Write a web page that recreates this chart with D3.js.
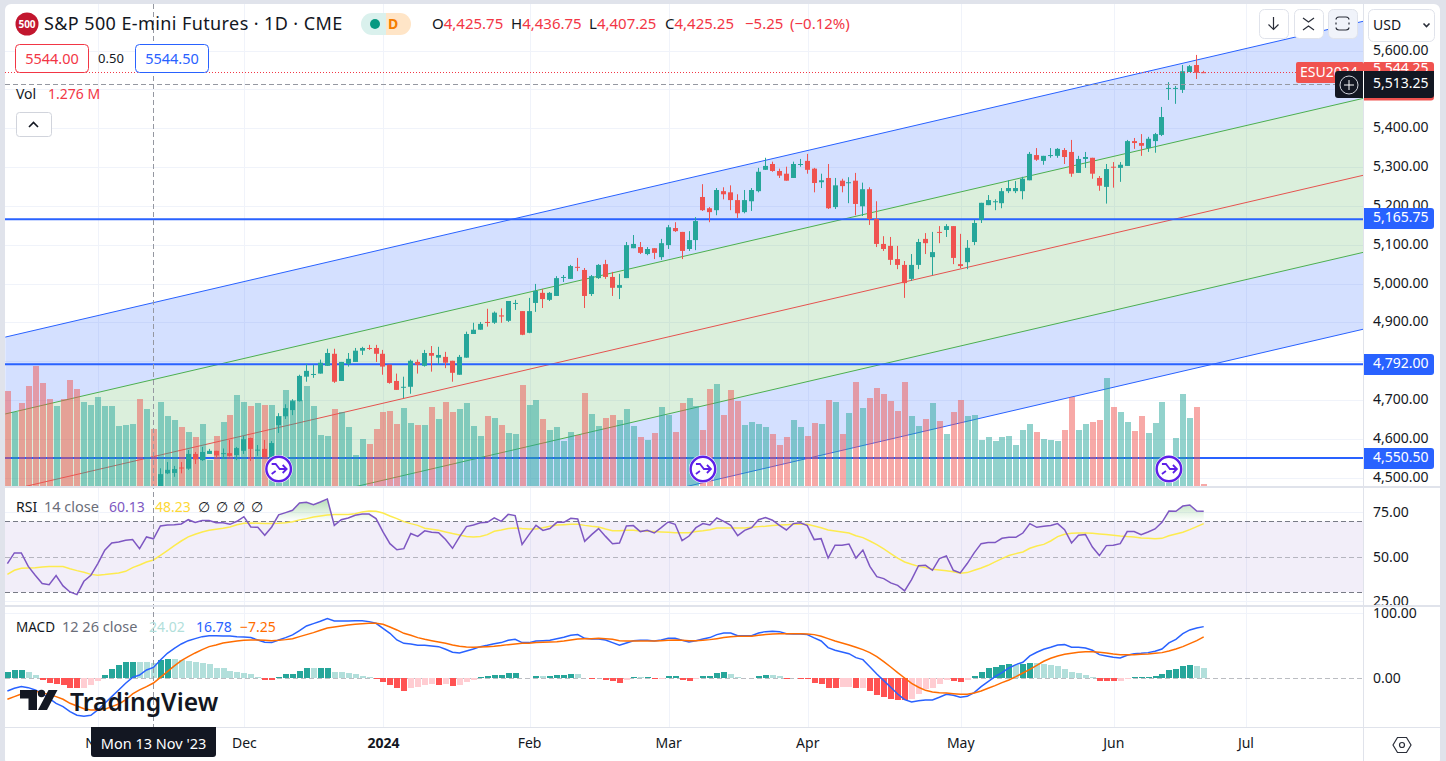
<!DOCTYPE html>
<html>
<head>
<meta charset="utf-8">
<title>S&amp;P 500 E-mini Futures</title>
<script src="https://cdn.jsdelivr.net/npm/d3@7"></script>
<style>
  html, body { margin: 0; padding: 0; background: #e0e3eb; overflow: hidden; }
  svg { display: block; }
  text { font-family: "Noto Sans", sans-serif; }
</style>
</head>
<body>
<div id="chart"></div>
<script>
// bar index 0 is Mon 13 Nov '23, the day under the crosshair
const firstVolumeBar = -21
const firstCandleBar = 1

const opens = [4468,4511,4512,4526,4523,4561,4545,4561,4569,4561,4563,4558,4569,4602,4570,4574,4553,4635,4658,4674,4697,4760,4765,4768,4788,4819,4749,4793,4798,4827,4834,4834,4819,4791,4749,4732,4734,4798,4788,4821,4809,4811,4801,4765,4809,4870,4881,4901,4899,4918,4904,4948,4929,4873,4950,4976,4958,4968,5015,5012,5043,5035,4973,5014,5050,5017,4989,5014,5091,5094,5076,5091,5068,5099,5143,5133,5089,5112,5223,5194,5189,5238,5235,5215,5184,5212,5238,5293,5308,5290,5283,5272,5307,5316,5296,5261,5272,5197,5265,5259,5265,5199,5243,5166,5102,5097,5063,5048,5012,5048,5115,5068,5133,5138,5148,5050,5055,5107,5164,5202,5210,5207,5238,5238,5238,5266,5331,5316,5330,5329,5344,5339,5285,5321,5324,5272,5249,5301,5298,5303,5367,5362,5349,5367,5383,5502,5502,5499,5545,5563,5544.5]
const highs = [4524,4540,4530,4540,4571,4566,4579,4574,4569,4575,4597,4579,4607,4603,4584,4597,4594,4666,4689,4702,4765,4793,4791,4804,4832,4832,4798,4821,4834,4837,4842,4842,4829,4791,4768,4760,4804,4804,4829,4839,4837,4824,4801,4816,4876,4899,4901,4935,4928,4936,4955,4958,4929,4963,4999,4986,4978,5019,5022,5048,5066,5040,5022,5050,5061,5030,5025,5107,5125,5107,5094,5091,5115,5151,5158,5133,5135,5171,5256,5197,5246,5248,5253,5230,5241,5246,5298,5324,5314,5296,5301,5314,5321,5334,5298,5283,5308,5272,5270,5274,5285,5260,5248,5212,5122,5120,5097,5058,5076,5115,5130,5133,5148,5153,5148,5128,5112,5164,5208,5228,5217,5246,5266,5264,5275,5339,5349,5329,5349,5349,5349,5370,5329,5339,5324,5277,5308,5313,5313,5370,5375,5385,5378,5388,5455,5519,5509,5563,5563,5589,5548]
const lows = [4460,4509,4502,4511,4520,4535,4543,4561,4551,4548,4554,4545,4561,4543,4556,4552,4552,4615,4651,4661,4696,4747,4757,4768,4788,4744,4749,4786,4798,4816,4829,4798,4765,4742,4726,4705,4716,4768,4786,4773,4791,4782,4747,4765,4809,4870,4881,4889,4896,4899,4901,4932,4867,4872,4927,4937,4955,4968,5004,5012,5032,4937,4968,5012,5012,4968,4960,5014,5091,5076,5073,5063,5061,5089,5133,5063,5084,5086,5187,5158,5176,5217,5189,5169,5181,5187,5235,5293,5288,5272,5265,5272,5301,5283,5235,5246,5192,5192,5235,5207,5176,5174,5151,5094,5084,5048,5037,4963,5007,5037,5076,5022,5104,5120,5050,5040,5037,5099,5156,5202,5189,5194,5233,5233,5217,5266,5316,5306,5324,5324,5308,5275,5285,5298,5270,5239,5206,5247,5262,5303,5347,5329,5339,5337,5380,5473,5463,5491,5545,5527,5544]
const closes = [4509,4520,4522,4525,4561,4547,4566,4569,4557,4563,4556,4576,4599,4574,4572,4553,4589,4658,4679,4697,4762,4775,4767,4796,4821,4747,4798,4806,4827,4834,4833,4819,4786,4744,4726,4734,4801,4791,4821,4814,4816,4796,4770,4811,4870,4881,4896,4899,4925,4915,4955,4950,4868,4929,4981,4960,4976,5014,5017,5045,5041,4968,5019,5048,5017,4989,4996,5099,5102,5079,5089,5079,5104,5145,5135,5084,5112,5161,5189,5184,5241,5230,5215,5181,5215,5241,5288,5303,5290,5278,5265,5308,5308,5293,5259,5266,5194,5253,5251,5261,5205,5243,5166,5102,5089,5061,5048,5001,5048,5107,5104,5081,5131,5148,5066,5045,5092,5156,5208,5215,5212,5238,5246,5246,5270,5334,5319,5329,5331,5347,5326,5283,5321,5326,5283,5252,5295,5299,5306,5367,5362,5355,5373,5385,5429,5504,5504,5547,5560,5543,5544.25]

// volume in millions, bars 0 and earlier have no visible candle so their colour is listed
const volumes = [2.13,1.66,1.86,2.24,2.69,2.31,1.95,1.79,1.95,2.37,2.17,1.88,1.81,1.99,1.79,1.79,1.34,1.37,1.39,1.95,1.72,1.276,1.88,1.57,1.48,1.32,1.21,1.10,1.39,0.58,1.12,1.43,1.59,2.04,1.88,1.79,1.86,1.81,1.81,1.57,2.15,1.92,1.92,2.24,1.79,1.14,1.12,1.72,1.66,1.32,0.69,1.05,0.94,1.28,1.66,1.68,1.39,1.75,1.41,1.37,1.37,1.77,1.50,1.88,1.66,1.72,1.86,1.34,1.12,1.57,1.52,1.37,1.19,1.16,2.26,1.81,1.92,1.50,1.25,1.32,1.01,1.21,1.14,2.08,1.61,1.34,1.52,1.59,1.48,1.72,1.34,1.10,1.03,1.19,1.77,1.59,1.21,1.86,1.97,1.79,1.25,2.17,2.28,1.59,2.15,1.90,1.37,1.43,1.39,1.32,1.16,0.92,1.10,1.48,1.32,1.12,1.41,1.39,1.92,1.88,1.16,1.63,2.33,1.75,1.97,2.19,2.06,1.90,1.68,2.33,1.57,1.34,1.50,1.86,1.45,1.16,1.66,1.92,1.57,1.59,1.03,1.10,1.01,1.10,1.12,0.92,1.25,1.39,1.21,1.05,1.03,1.01,1.25,1.99,1.25,1.39,1.43,1.48,2.42,1.77,1.66,1.43,1.23,1.57,1.19,1.41,1.88,0.51,1.07,2.06,1.52,1.77,0.04]
const earlyVolumeDown = [1,0,1,1,1,1,1,0,1,1,1,0,0,0,0,0,0,0,0,1,0,1]

const rsiValues = [46.2,52.2,52.2,44.6,39.6,34.9,34.3,39.4,33.6,30.2,28.7,36.2,39.6,46.2,53.7,57.8,58.4,59.3,59.7,54.6,61.2,60.13,67.4,67.9,68.1,68.5,70.9,69.4,70.4,70.4,69.2,69.2,68.3,70.0,72.6,66.8,66.6,62.1,66.8,73.6,74.9,76.2,80.3,80.7,79.4,80.9,82.6,67.7,70.9,71.9,73.4,74.1,74.1,71.5,64.0,57.4,54.0,54.6,63.1,61.5,64.6,63.8,63.6,59.7,54.8,61.2,67.0,67.9,69.2,69.4,71.9,70.0,73.9,73.2,56.9,62.5,67.7,64.9,65.9,69.4,69.4,71.7,71.3,58.7,62.5,65.9,61.5,57.4,57.8,67.4,67.6,64.2,64.9,63.4,66.4,69.6,68.3,59.1,61.7,66.4,68.7,67.9,71.9,70.0,67.7,61.9,64.9,66.4,70.9,72.1,70.6,67.7,65.1,68.7,69.2,67.6,59.7,60.2,49.3,56.5,56.5,57.2,49.3,53.8,44.6,38.8,37.7,35.3,33.9,30.8,37.1,45.0,45.2,42.4,49.0,50.5,42.4,40.9,46.2,52.2,57.4,58.0,58.0,60.4,61.0,61.0,63.4,68.7,66.6,67.2,67.6,68.7,65.3,57.8,62.1,62.5,55.5,50.7,56.3,56.5,57.4,64.2,64.2,62.5,64.0,65.7,69.4,75.8,75.6,78.6,79.2,75.8,75.6]
const rsiAverage = [40.1,42.4,43.5,43.7,43.9,44.3,44.5,44.5,44.5,43.3,42.2,41.3,40.1,39.6,40.0,40.5,40.9,41.8,43.9,45.4,47.1,48.23,50.8,53.5,56.3,58.9,61.2,62.7,64.0,64.9,65.5,66.1,66.8,68.1,68.9,69.1,68.9,68.7,68.7,68.9,69.2,69.8,70.8,71.5,72.4,73.0,73.6,73.8,73.8,73.8,74.3,75.3,75.8,75.6,74.7,73.0,71.5,69.8,68.7,67.7,66.1,65.5,64.9,64.0,63.1,62.3,61.4,61.2,61.4,62.5,64.4,65.1,65.9,66.2,65.9,65.7,65.7,66.4,67.2,67.9,68.1,68.3,68.3,67.7,67.2,66.8,65.7,64.7,64.7,64.9,64.9,64.6,64.4,64.2,64.0,63.8,63.6,63.6,63.6,64.2,64.7,65.3,66.2,66.2,66.2,66.2,66.2,66.6,67.0,67.2,67.6,67.9,68.1,68.3,68.3,68.3,67.4,66.4,65.1,64.6,64.0,63.4,61.9,60.8,58.9,56.9,54.4,51.8,49.3,47.1,45.8,44.6,43.9,43.0,42.6,42.2,41.6,40.7,41.1,42.4,43.7,45.2,47.1,49.0,50.7,51.8,52.7,54.8,56.1,57.0,58.9,61.4,62.7,63.2,63.4,63.4,63.2,62.9,62.5,62.1,61.7,61.4,61.2,60.6,60.4,60.2,60.4,61.9,62.9,63.8,65.3,67.0,68.7]

const macdLine = [-19.5,-15.4,-12.8,-14.4,-17.9,-23.1,-30.8,-38.5,-43.6,-51.3,-56.9,-58.5,-56.9,-48.7,-38.5,-28.2,-17.9,-7.7,1.5,5.1,12.8,16.78,28.2,38.5,46.2,52.8,57.9,61.0,64.1,65.6,65.6,65.1,65.1,64.1,63.6,62.6,59.0,55.4,54.9,59.0,62.6,66.7,73.3,80.5,84.1,87.7,91.8,88.2,88.2,88.2,88.7,88.7,87.2,84.6,76.9,69.2,59.0,53.8,52.8,50.8,50.8,49.7,48.7,44.6,40.0,39.0,42.1,45.1,48.7,50.8,53.3,54.9,58.5,60.0,54.9,54.9,57.4,57.9,58.5,61.0,63.1,66.2,67.2,61.5,60.5,60.5,59.0,54.9,50.8,54.4,57.9,58.5,58.5,57.4,59.0,61.5,61.5,58.5,55.9,57.9,60.5,62.6,67.2,69.7,69.7,65.6,65.6,65.6,69.7,71.8,72.3,71.8,68.7,68.2,68.2,67.2,62.1,57.4,47.2,43.1,40.5,37.9,31.8,28.7,17.9,6.7,-3.6,-13.8,-24.1,-32.8,-36.4,-34.4,-33.3,-33.3,-29.2,-24.6,-26.2,-29.2,-27.7,-22.1,-12.8,-5.1,2.6,8.7,15.9,21.0,24.6,34.4,40.0,44.6,47.7,51.3,51.8,47.7,47.7,46.7,43.1,36.4,34.4,32.3,31.3,35.4,37.9,38.5,39.5,41.5,45.1,54.4,60.0,68.7,74.4,77.4,79.5]
const macdSignal = [-32.3,-28.2,-24.1,-21.0,-20.0,-22.1,-25.1,-28.2,-32.3,-38.5,-42.6,-46.7,-48.7,-48.7,-47.7,-43.6,-39.5,-33.3,-24.1,-17.9,-12.8,-7.25,1.5,10.3,19.0,27.2,33.3,39.0,44.1,48.7,51.3,54.4,55.9,57.4,58.5,59.0,59.0,58.5,57.9,58.5,59.5,61.0,64.1,67.2,70.3,73.8,77.4,79.0,80.5,82.1,83.1,84.1,84.6,84.6,83.1,79.0,74.4,69.2,66.2,62.6,60.0,57.9,55.9,53.8,51.3,49.2,48.2,47.7,48.2,48.7,49.2,50.3,51.8,52.8,53.8,53.8,54.9,55.4,55.9,56.4,57.4,59.0,60.5,61.0,61.0,61.5,61.0,60.0,57.9,57.4,57.4,57.4,57.4,57.4,57.9,58.5,59.0,58.5,57.9,57.9,58.5,59.5,61.0,62.6,64.1,64.6,64.6,64.6,66.2,67.2,68.2,68.7,68.7,68.7,68.7,68.2,67.2,64.6,61.0,57.4,54.4,51.3,47.7,44.1,39.5,33.3,25.6,17.4,8.7,0.5,-7.7,-13.8,-18.5,-21.0,-22.1,-22.6,-23.6,-24.6,-24.6,-22.6,-19.5,-15.4,-11.3,-6.7,-2.6,2.6,8.2,13.8,20.0,26.2,30.8,34.4,36.9,38.5,40.0,41.0,41.0,40.0,39.0,37.4,36.4,36.4,36.4,36.9,37.4,38.5,39.5,42.1,45.1,48.7,53.3,57.9,63.6]
const macdHistogram = [9.7,12.3,13.3,10.3,4.6,-3.1,-7.7,-8.2,-10.3,-14.4,-15.4,-14.9,-10.3,-4.6,5.1,14.4,20.5,24.6,25.6,25.0,24.6,24.02,28.7,29.7,29.5,28.2,26.7,25.6,24.1,21.5,16.4,15.4,11.3,9.2,7.7,6.2,2.6,-3.1,-3.1,2.6,6.2,7.2,11.3,15.4,15.2,15.4,15.6,10.3,9.2,7.7,6.2,4.1,2.1,-0.5,-5.1,-10.3,-15.4,-19.0,-15.4,-12.8,-10.3,-9.4,-9.6,-9.4,-11.3,-11.0,-5.1,-2.1,1.5,4.1,5.6,5.6,7.7,7.7,0.5,0.4,4.1,3.6,4.1,5.1,5.6,7.2,6.7,0.5,-1.0,0.5,-2.1,-4.6,-7.7,-2.1,2.6,2.1,2.2,-1.0,-0.5,4.1,4.1,-2.6,-3.6,-1.0,4.1,4.1,7.7,9.2,7.2,2.6,1.0,0.9,4.1,5.6,5.4,4.1,-0.5,0.5,-0.5,-1.5,-6.7,-8.2,-14.4,-14.5,-13.8,-12.8,-15.4,-14.9,-19.0,-25.6,-28.7,-31.8,-32.8,-33.8,-31.3,-23.6,-16.4,-15.4,-8.7,-2.1,-3.6,-5.1,-3.1,4.1,10.3,15.4,17.9,20.0,21.5,20.5,21.5,24.1,23.9,22.6,21.0,19.5,13.8,10.3,8.7,5.6,2.6,-4.6,-4.6,-4.6,-4.5,-1.5,2.1,2.2,2.6,4.1,7.2,13.3,14.9,19.0,21.0,19.5,16.4]

const priceGridTicks = [5600,5500,5400,5300,5200,5100,5000,4900,4800,4700,4600,4500]
// 5,500 and 4,800 have no label of their own, the price tags take their place
const priceLabelTicks = [5600,5400,5300,5200,5100,5000,4900,4700,4600,4500]
const rsiTicks = [75,50,25]
const macdTicks = [100,0]
const levelPrices = [5165.75,4792,4550.5]
const eventBars = [18,79,146]
const monthBars = [-8,13,33,54,74,94,116,138,157]
const monthLabels = ['Nov','Dec','2024','Feb','Mar','Apr','May','Jun','Jul']

// regression channel, both ends in bar index / price
const channelBars = [-21.3,174.1]
const channelTop = [4862,5676.4]
const channelUpper = [4664,5477.8]
const channelMiddle = [4465.3,5279.6]
const channelLower = [4267,5081]
const channelBottom = [4069,4883]

const lastPrice = 5544.25
const crosshairPrice = 5513.25
const crosshairBar = 0

const width = 1446, height = 761
const left = 5, right = 1363
const mainTop = 4, mainBottom = 486
const rsiTop = 488, rsiBottom = 605
const macdTop = 607, macdBottom = 727
const gridColor = '#f0f3fa'
const sepColor = '#e0e3eb'
const textColor = '#131722'
const upColor = '#26a69a', downColor = '#ef5350'
const blue = '#2962ff', red = '#f23645'

const x = d3.scaleLinear().domain([-21,151]).range([7.4,1203.7])
const y = d3.scaleLinear().domain([5544.25,4550.5]).range([72.3,458])
const yVol = d3.scaleLinear().domain([0,2.686]).range([486,366])
const yRsi = d3.scaleLinear().domain([30,70]).range([592.3,521.3])
const yMacd = d3.scaleLinear().domain([0,100]).range([678.3,613.3])
const snap = (k)=>(Math.floor(x(k)) + 0.5)

const svg = d3.select('#chart').append('svg')
  .attr('width',width)
  .attr('height',height)

svg.append('rect')
  .attr('x',left).attr('y',mainTop)
  .attr('width',1435).attr('height',height)
  .attr('rx',6)
  .attr('fill','#fff')

const defs = svg.append('defs')
function addClip(id, top, bottom){
  defs.append('clipPath').attr('id',id).append('rect')
    .attr('x',left).attr('y',top)
    .attr('width',right-left).attr('height',bottom-top)
}
addClip('clipMain',mainTop,mainBottom)
addClip('clipRsi',rsiTop,rsiBottom)
addClip('clipMacd',macdTop,macdBottom)
defs.append('clipPath').attr('id','clipRsiAxis').append('rect')
  .attr('x',right).attr('y',rsiTop).attr('width',76).attr('height',rsiBottom-rsiTop)

const rsiGradient = defs.append('linearGradient')
  .attr('id','rsiHigh')
  .attr('gradientUnits','userSpaceOnUse')
  .attr('x1',0).attr('x2',0).attr('y1',yRsi(84)).attr('y2',yRsi(70))
rsiGradient.append('stop').attr('offset',0).attr('stop-color','#4caf50').attr('stop-opacity',0.45)
rsiGradient.append('stop').attr('offset',1).attr('stop-color','#4caf50').attr('stop-opacity',0)

// grid
const grid = svg.append('g').attr('stroke',gridColor).attr('stroke-width',1).attr('shape-rendering','crispEdges')
grid.selectAll('.vgrid').data(monthBars).enter().append('line')
  .attr('x1',(d)=>(snap(d)+1)).attr('x2',(d)=>(snap(d)+1))
  .attr('y1',mainTop).attr('y2',macdBottom)
grid.selectAll('.pgrid').data(priceGridTicks).enter().append('line')
  .attr('x1',left).attr('x2',right)
  .attr('y1',(d)=>(Math.round(y(d))+0.5)).attr('y2',(d)=>(Math.round(y(d))+0.5))
grid.selectAll('.rgrid').data([75,25]).enter().append('line')
  .attr('x1',left).attr('x2',right)
  .attr('y1',(d)=>(Math.round(yRsi(d))+0.5)).attr('y2',(d)=>(Math.round(yRsi(d))+0.5))
grid.append('line')
  .attr('x1',left).attr('x2',right)
  .attr('y1',Math.round(yMacd(100))+0.5).attr('y2',Math.round(yMacd(100))+0.5)

// main pane
const main = svg.append('g').attr('clip-path','url(#clipMain)')

function channelBand(upper, lower, fill){
  const area = d3.area()
    .x((d)=>(x(d)))
    .y0((d,i)=>(y(lower[i])))
    .y1((d,i)=>(y(upper[i])))
  main.append('path').attr('d',area(channelBars)).attr('fill',fill)
}
function channelLine(values, stroke){
  const line = d3.line().x((d)=>(x(d))).y((d,i)=>(y(values[i])))
  main.append('path').attr('d',line(channelBars)).attr('fill','none').attr('stroke',stroke).attr('stroke-width',1)
}
channelBand(channelTop,channelUpper,'rgba(41,98,255,0.2)')
channelBand(channelUpper,channelLower,'rgba(76,175,80,0.2)')
channelBand(channelLower,channelBottom,'rgba(41,98,255,0.2)')
channelLine(channelTop,blue)
channelLine(channelUpper,'#4caf50')
channelLine(channelMiddle,'#e5534f')
channelLine(channelLower,'#4caf50')
channelLine(channelBottom,blue)

main.selectAll('.level').data(levelPrices).enter().append('line')
  .attr('x1',left).attr('x2',right)
  .attr('y1',(d)=>(y(d))).attr('y2',(d)=>(y(d)))
  .attr('stroke',blue).attr('stroke-width',2)

const volumeIsDown = (k)=>(k < firstCandleBar
  ? earlyVolumeDown[k-firstVolumeBar] === 1
  : closes[k-firstCandleBar] < opens[k-firstCandleBar])

main.selectAll('.vol').data(volumes).enter().append('rect')
  .attr('x',(d,i)=>(snap(i+firstVolumeBar)-2.5))
  .attr('width',6)
  .attr('y',(d)=>(yVol(d)))
  .attr('height',(d)=>(yVol(0)-yVol(d)))
  .attr('fill',(d,i)=>(volumeIsDown(i+firstVolumeBar) ? downColor : upColor))
  .attr('fill-opacity',0.5)
  .attr('shape-rendering','crispEdges')

main.selectAll('.wick').data(opens).enter().append('line')
  .attr('x1',(d,i)=>(snap(i+firstCandleBar)))
  .attr('x2',(d,i)=>(snap(i+firstCandleBar)))
  .attr('y1',(d,i)=>(y(highs[i])))
  .attr('y2',(d,i)=>(y(lows[i])))
  .attr('stroke',(d,i)=>(closes[i] < d ? downColor : upColor))
  .attr('stroke-width',1)

main.selectAll('.body').data(opens).enter().append('rect')
  .attr('x',(d,i)=>(snap(i+firstCandleBar)-2.5))
  .attr('width',5)
  .attr('y',(d,i)=>(y(Math.max(d,closes[i]))))
  .attr('height',(d,i)=>(Math.max(1,Math.abs(y(d)-y(closes[i])))))
  .attr('fill',(d,i)=>(closes[i] < d ? downColor : upColor))

// last price line
svg.append('line')
  .attr('x1',left).attr('x2',right)
  .attr('y1',Math.round(y(lastPrice))+0.5).attr('y2',Math.round(y(lastPrice))+0.5)
  .attr('stroke',red).attr('stroke-width',1).attr('stroke-dasharray','1 2')

// rsi pane
svg.append('rect')
  .attr('x',left).attr('width',right-left)
  .attr('y',yRsi(70)).attr('height',yRsi(30)-yRsi(70))
  .attr('fill','rgba(126,87,194,0.1)')

const rsiPane = svg.append('g').attr('clip-path','url(#clipRsi)')
rsiPane.selectAll('.band').data([70,50,30]).enter().append('line')
  .attr('x1',left).attr('x2',right)
  .attr('y1',(d)=>(Math.round(yRsi(d))+0.5)).attr('y2',(d)=>(Math.round(yRsi(d))+0.5))
  .attr('stroke','#787b86')
  .attr('stroke-opacity',(d)=>(d === 50 ? 0.5 : 1))
  .attr('stroke-dasharray','5 3')

const rsiArea = d3.area()
  .x((d,i)=>(x(i+firstVolumeBar)))
  .y0(yRsi(70))
  .y1((d)=>(yRsi(Math.max(d,70))))
rsiPane.append('path').attr('d',rsiArea(rsiValues)).attr('fill','url(#rsiHigh)')

const rsiLine = d3.line().x((d,i)=>(x(i+firstVolumeBar))).y((d)=>(yRsi(d)))
rsiPane.append('path').attr('d',rsiLine(rsiAverage))
  .attr('fill','none').attr('stroke','#fdeb4f').attr('stroke-width',1.5)
rsiPane.append('path').attr('d',rsiLine(rsiValues))
  .attr('fill','none').attr('stroke','#7e57c2').attr('stroke-width',1.5)

// macd pane
const macdPane = svg.append('g').attr('clip-path','url(#clipMacd)')
macdPane.append('line')
  .attr('x1',left).attr('x2',right)
  .attr('y1',Math.round(yMacd(0))+0.5).attr('y2',Math.round(yMacd(0))+0.5)
  .attr('stroke','#787b86').attr('stroke-opacity',0.5).attr('stroke-dasharray','5 3')

const histColor = (d,i)=>{
  const prev = i > 0 ? macdHistogram[i-1] : d
  if (d >= 0) return d >= prev ? '#26a69a' : '#b2dfdb'
  return d <= prev ? '#ff5252' : '#ffcdd2'
}
macdPane.selectAll('.hist').data(macdHistogram).enter().append('rect')
  .attr('x',(d,i)=>(snap(i+firstVolumeBar)-2.5))
  .attr('width',6)
  .attr('y',(d)=>(Math.min(yMacd(d),yMacd(0))))
  .attr('height',(d)=>(Math.abs(yMacd(d)-yMacd(0))))
  .attr('fill',histColor)
  .attr('shape-rendering','crispEdges')

const macdPath = d3.line().x((d,i)=>(x(i+firstVolumeBar))).y((d)=>(yMacd(d)))
macdPane.append('path').attr('d',macdPath(macdLine))
  .attr('fill','none').attr('stroke',blue).attr('stroke-width',1.5)
macdPane.append('path').attr('d',macdPath(macdSignal))
  .attr('fill','none').attr('stroke','#ff6d00').attr('stroke-width',1.5)

// crosshair
svg.append('line')
  .attr('x1',snap(crosshairBar)).attr('x2',snap(crosshairBar))
  .attr('y1',mainTop).attr('y2',macdBottom)
  .attr('stroke','#9598a1').attr('stroke-dasharray','5 3')
svg.append('line')
  .attr('x1',left).attr('x2',right)
  .attr('y1',Math.round(y(crosshairPrice))+0.5).attr('y2',Math.round(y(crosshairPrice))+0.5)
  .attr('stroke','#9598a1').attr('stroke-dasharray','5 3')

// pane separators and frame
const frame = svg.append('g').attr('shape-rendering','crispEdges')
frame.append('rect').attr('x',left).attr('y',486).attr('width',1435).attr('height',2).attr('fill',sepColor)
frame.append('rect').attr('x',left).attr('y',605).attr('width',1435).attr('height',2).attr('fill',sepColor)
frame.append('line').attr('x1',right+0.5).attr('x2',right+0.5).attr('y1',mainTop).attr('y2',height).attr('stroke',sepColor)
frame.append('line').attr('x1',left).attr('x2',left+1435).attr('y1',727.5).attr('y2',727.5).attr('stroke',sepColor)

// axes
function priceAxis(scale, ticks, format, shift){
  const g = svg.append('g')
    .attr('transform','translate(1373,' + shift + ')')
    .call(d3.axisRight(scale).tickValues(ticks).tickSize(0).tickPadding(0).tickFormat(format))
  g.select('.domain').remove()
  g.selectAll('text').attr('fill',textColor).attr('font-size',14).attr('font-family','"Noto Sans", sans-serif')
  return g
}
priceAxis(y,priceLabelTicks,d3.format(',.2f'),-1)
svg.append('g').attr('clip-path','url(#clipRsiAxis)')
  .append(()=>(priceAxis(yRsi,rsiTicks,d3.format('.2f'),0).node()))
priceAxis(yMacd,macdTicks,d3.format('.2f'),0)

const timeAxis = svg.append('g')
  .attr('transform','translate(0,727)')
  .call(d3.axisBottom(x).tickValues(monthBars).tickSize(0).tickPadding(11)
    .tickFormat((d,i)=>(monthLabels[i])))
timeAxis.select('.domain').remove()
timeAxis.selectAll('text')
  .attr('fill',textColor).attr('font-size',14).attr('font-family','"Noto Sans", sans-serif')
  .attr('font-weight',(d,i)=>(monthLabels[i] === '2024' ? 700 : 400))

// text helper
function label(parent, px, py, text, fill, size, anchor, weight){
  return parent.append('text')
    .attr('x',px).attr('y',py)
    .attr('dy','0.35em')
    .attr('fill',fill)
    .attr('font-size',size)
    .attr('text-anchor',anchor || 'start')
    .attr('font-weight',weight || 400)
    .text(text)
}

// event markers
const markers = svg.selectAll('.marker').data(eventBars).enter().append('g')
  .attr('transform',(d)=>('translate(' + x(d) + ',469)'))
markers.append('circle').attr('r',14).attr('fill','#fff')
markers.append('circle').attr('r',12.3).attr('fill','#fff').attr('stroke','#5d1fe8').attr('stroke-width',2.4)
markers.append('path')
  .attr('d','M-7,-5 L-3,-5 L1,0 L8,0 M4,-4 L8,0 L4,4 M-7,5 L-3,2')
  .attr('fill','none').attr('stroke','#5d1fe8').attr('stroke-width',1.8)

// right hand price labels
function priceBox(py, h, fill, text){
  svg.append('path')
    .attr('d','M' + (right+1) + ',' + py + ' h67 a3,3 0 0 1 3,3 v' + (h-6) + ' a3,3 0 0 1 -3,3 h-67 z')
    .attr('fill',fill)
  if (text) label(svg,1373,py+h/2-1,text,'#fff',14)
}
priceBox(208,21,blue,'5,165.75')
priceBox(354,21,blue,'4,792.00')
priceBox(448,21,blue,'4,550.50')

// symbol tag and last price, mostly hidden by the crosshair tag
svg.append('rect').attr('x',1296).attr('y',62).attr('width',68).attr('height',21).attr('rx',2).attr('fill','#f0524f')
label(svg,1300,72,'ESU2024','#fff',14)
priceBox(62,38.5,'#f0524f','')
label(svg,1373,68,d3.format(',.2f')(lastPrice),'#fff',14)
svg.append('path')
  .attr('d','M1338,71 H1434 V95 a3,3 0 0 1 -3,3 H1338 a3,3 0 0 1 -3,-3 V74 a3,3 0 0 1 3,-3 z')
  .attr('fill',textColor)
svg.append('line').attr('x1',1363.5).attr('x2',1363.5).attr('y1',71).attr('y2',98).attr('stroke','#fff')
label(svg,1373,83.5,d3.format(',.2f')(crosshairPrice),'#fff',14)
svg.append('circle').attr('cx',1349).attr('cy',85).attr('r',9).attr('fill','none').attr('stroke','#d1d4dc')
svg.append('path').attr('d','M1344,85 H1354 M1349,80 V90').attr('stroke','#fff').attr('fill','none')

// date tag
svg.append('path')
  .attr('d','M91,727 H216 V754 a3,3 0 0 1 -3,3 H94 a3,3 0 0 1 -3,-3 z')
  .attr('fill',textColor)
label(svg,153.5,744,"Mon 13 Nov '23",'#fff',14.5,'middle')

// toolbar buttons
function toolButton(bx, by, bw, bh, fill){
  svg.append('rect')
    .attr('x',bx+0.5).attr('y',by+0.5).attr('width',bw).attr('height',bh)
    .attr('rx',5).attr('fill',fill).attr('stroke','#e0e3eb')
}
toolButton(1259,9,29,29,'#fff')
toolButton(1294,9,29,29,'#fff')
toolButton(1328,9,29,29,'#f0f3fa')
toolButton(1368,9,66,32,'#fff')
const icons = svg.append('g').attr('fill','none').attr('stroke','#2a2e39').attr('stroke-width',1.2)
icons.append('path').attr('d','M1273.5,17 V29 M1268.5,24.5 L1273.5,29.5 L1278.5,24.5')
icons.append('path').attr('d','M1303,18 L1308.5,22 L1314,18 M1303,30 L1308.5,26 L1314,30')
icons.append('rect').attr('x',1336).attr('y',17).attr('width',13).attr('height',13).attr('rx',3)
icons.append('path').attr('d','M1334,21 H1351 M1334,26 H1351').attr('stroke','#f0f3fa').attr('stroke-width',3)
icons.append('path').attr('d','M1423.5,23.5 L1426.5,26.5 L1429.5,23.5').attr('stroke-width',1.6)
label(svg,1373,25,'USD',textColor,14)
svg.append('path')
  .attr('d','M1393,745 L1397.5,737.5 H1406.5 L1411,745 L1406.5,752.5 H1397.5 Z')
  .attr('fill','none').attr('stroke','#2a2e39').attr('stroke-width',1.2)
svg.append('circle').attr('cx',1402).attr('cy',745).attr('r',2.5).attr('fill','none').attr('stroke','#2a2e39').attr('stroke-width',1.2)

// legend
svg.append('circle').attr('cx',27).attr('cy',24).attr('r',11.5).attr('fill','#c2162e')
label(svg,27,24,'500','#fff',10,'middle',700)
label(svg,44,24,'S&P 500 E-mini Futures · 1D · CME',textColor,18).attr('letter-spacing',0.4)

svg.append('path').attr('d','M372,13 H386 V35 H372 a11,11 0 0 1 0,-22 z').attr('fill','#daf1ed')
svg.append('path').attr('d','M386,13 H400 a11,11 0 0 1 0,22 H386 z').attr('fill','#ffe5c7')
svg.append('circle').attr('cx',375).attr('cy',24).attr('r',5).attr('fill','#089981')
label(svg,393,24,'D','#f57c00',14,'middle',700)

const ohlcText = svg.append('text').attr('y',24).attr('dy','0.35em').attr('font-size',15)
const ohlcParts = [
  [432,'O',textColor],[null,'4,425.75',red],
  [511,'H',textColor],[null,'4,436.75',red],
  [589,'L',textColor],[null,'4,407.25',red],
  [665,'C',textColor],[null,'4,425.25',red],
  [745,'−5.25',red],[790,'(−0.12%)',red]
]
ohlcParts.forEach((part)=>{
  const span = ohlcText.append('tspan').attr('fill',part[2]).text(part[1])
  if (part[0] !== null) span.attr('x',part[0])
})

function quoteBox(bx, color, text){
  svg.append('rect')
    .attr('x',bx+0.5).attr('y',44.5).attr('width',73).attr('height',28)
    .attr('rx',4).attr('fill','#fff').attr('stroke',color)
  label(svg,bx+37,58.5,text,color,14.5,'middle')
}
quoteBox(15,red,'5544.00')
label(svg,111,58.5,'0.50',textColor,13,'middle')
quoteBox(135,blue,'5544.50')

label(svg,16,94,'Vol',textColor,14)
label(svg,48,94,'1.276 M',red,14)

svg.append('rect').attr('x',16.5).attr('y',112.5).attr('width',35).attr('height',24).attr('rx',3)
  .attr('fill','#fff').attr('stroke','#d1d4dc')
svg.append('path').attr('d','M29,127 L33.5,122.5 L38,127').attr('fill','none').attr('stroke',textColor).attr('stroke-width',1.6)

label(svg,16,507,'RSI',textColor,14)
label(svg,44,507,'14 close','#6a6d78',14.5)
label(svg,109,507,'60.13','#7e57c2',14)
label(svg,155,507,'48.23','#fdd835',14)
;[198,216,233,251].forEach((px)=>{ label(svg,px,507,'∅',textColor,14) })

label(svg,16,627,'MACD',textColor,13.5)
label(svg,62,627,'12 26 close','#6a6d78',14.5)
label(svg,149,627,'24.02','#b2dfdb',14)
label(svg,196,627,'16.78',blue,14)
label(svg,240,627,'−7.25','#ff6d00',14)

// watermark
const logo = svg.append('g').attr('fill',textColor)
logo.append('path').attr('d','M20,690 H37 V710 H28.5 V698.5 H20 Z')
logo.append('circle').attr('cx',41.5).attr('cy',693.5).attr('r',3.7)
logo.append('path').attr('d','M48.5,690 H57.5 L47,710 H38 Z')
label(logo,70,702,'TradingView',textColor,24.7,'start',600).attr('font-family','Inter, sans-serif')
</script>
</body>
</html>
